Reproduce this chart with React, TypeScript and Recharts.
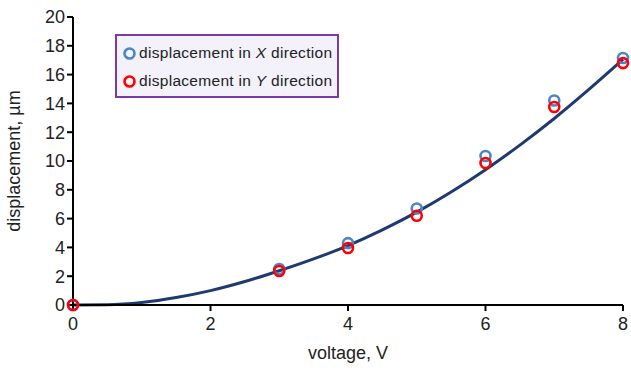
import { ComposedChart, Line, Scatter, XAxis, YAxis } from "recharts"

const xTicks = [0, 2, 4, 6, 8]
const yTicks = [0, 2, 4, 6, 8, 10, 12, 14, 16, 18, 20]

const measuredVoltage = [0, 3, 4, 5, 6, 7, 8]
const displacementX = [0, 2.5, 4.3, 6.7, 10.35, 14.2, 17.15]
const displacementY = [0, 2.36, 3.96, 6.2, 9.86, 13.75, 16.8]

const fitVoltage = [0, 0.5, 1, 1.5, 2, 2.5, 3, 3.5, 4, 4.5, 5, 5.5, 6, 6.5, 7, 7.5, 8]
const fitDisplacement = [0, 0.02, 0.18, 0.52, 1.0, 1.63, 2.38, 3.2, 4.13, 5.22, 6.45, 7.85, 9.4, 11.1, 12.95, 14.95, 17.05]

const fitData = fitVoltage.map((x, i) => ({ x, fit: fitDisplacement[i] }))
const xData = measuredVoltage.map((x, i) => ({ x, y: displacementX[i] }))
const yData = measuredVoltage.map((x, i) => ({ x, y: displacementY[i] }))

const FONT = "'Liberation Sans', Arial, sans-serif"

function Ring({ cx, cy, color }: { cx?: number; cy?: number; color: string }) {
  if (cx == null || cy == null) return null
  return <circle cx={cx} cy={cy} r={5} fill="none" stroke={color} strokeWidth={2.6} />
}

export default function App() {
  return (
    <div style={{ position: "absolute", left: 0, top: 0, width: 631, height: 371, background: "#fff", fontFamily: FONT }}>
      <ComposedChart width={631} height={371} margin={{ top: 17, right: 8, bottom: 0, left: 0 }}>
        <XAxis
          type="number"
          dataKey="x"
          domain={[0, 8]}
          ticks={xTicks}
          allowDuplicatedCategory={false}
          height={66}
          stroke="#000"
          strokeWidth={2}
          tickSize={6}
          tick={{ fill: "#222", fontSize: 18, fontFamily: FONT, dy: 4 }}
          label={{ value: "voltage, V", position: "insideBottom", offset: 12, fill: "#222", fontSize: 18, fontFamily: FONT }}
        />
        <YAxis
          type="number"
          domain={[0, 20]}
          ticks={yTicks}
          width={73}
          stroke="#000"
          strokeWidth={2}
          tickSize={6}
          tick={{ fill: "#222", fontSize: 18, fontFamily: FONT }}
          label={{ value: "displacement, µm", angle: -90, position: "insideLeft", offset: 14, fill: "#222", fontSize: 18, fontFamily: FONT, style: { textAnchor: "middle" } }}
        />
        <Line
          data={fitData}
          dataKey="fit"
          type="monotone"
          stroke="#1f3a70"
          strokeWidth={3}
          dot={false}
          activeDot={false}
          isAnimationActive={false}
        />
        <Scatter data={xData} dataKey="y" shape={(p: any) => <Ring cx={p.cx} cy={p.cy} color="#4a86c8" />} isAnimationActive={false} />
        <Scatter data={yData} dataKey="y" shape={(p: any) => <Ring cx={p.cx} cy={p.cy} color="#ff0000" />} isAnimationActive={false} />
      </ComposedChart>
      <div
        style={{
          position: "absolute",
          left: 115,
          top: 34,
          width: 224,
          height: 64,
          border: "2px solid #7a3aa8",
          background: "#f3f1fa",
          fontSize: 15.5,
          letterSpacing: 0.3,
          color: "#222",
          boxSizing: "border-box",
          padding: "3px 0 0 5px",
          whiteSpace: "nowrap",
        }}
      >
        <div style={{ display: "flex", alignItems: "center", height: 28 }}>
          <svg width={15} height={15} style={{ marginRight: 2 }}>
            <circle cx={7.5} cy={7.5} r={5} fill="none" stroke="#4a86c8" strokeWidth={2.6} />
          </svg>
          <span>displacement in <i>X</i> direction</span>
        </div>
        <div style={{ display: "flex", alignItems: "center", height: 28 }}>
          <svg width={15} height={15} style={{ marginRight: 2 }}>
            <circle cx={7.5} cy={7.5} r={5} fill="none" stroke="#ff0000" strokeWidth={2.6} />
          </svg>
          <span>displacement in <i>Y</i> direction</span>
        </div>
      </div>
    </div>
  )
}
